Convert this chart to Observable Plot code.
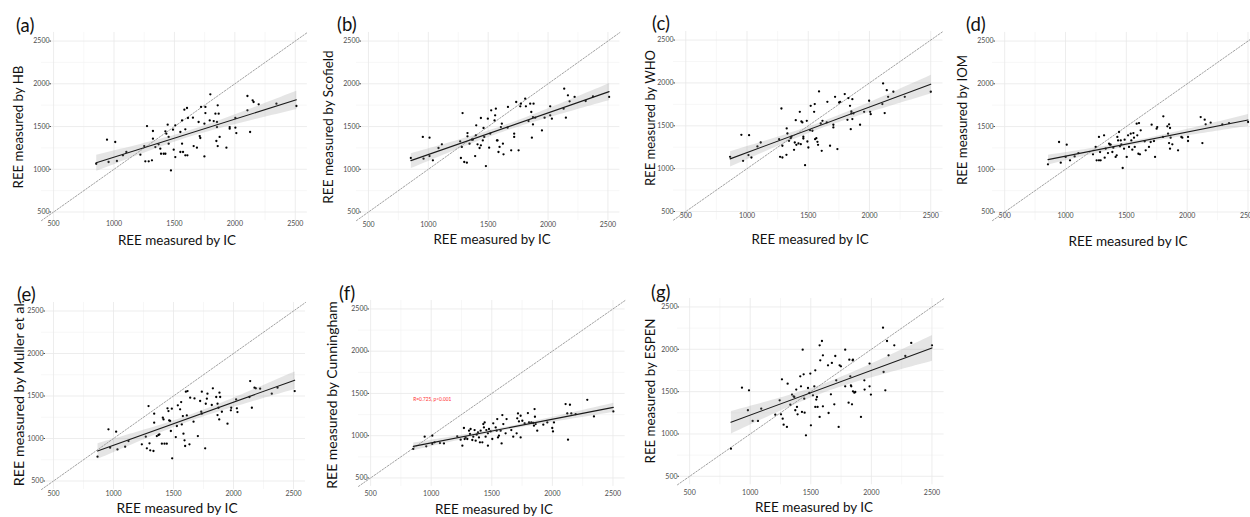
<!DOCTYPE html>
<html>
<head>
<meta charset="utf-8">
<script src="https://cdn.jsdelivr.net/npm/d3@7"></script>
<script src="https://cdn.jsdelivr.net/npm/@observablehq/plot@0.6"></script>
<style>
  html, body { margin: 0; padding: 0; background: #fff; }
  body { width: 1250px; height: 517px; overflow: hidden; position: relative; font-family: Lato, "Noto Sans", sans-serif; }
  .panel { position: absolute; }
  .panel svg { max-width: none !important; }
  .lbl { position: absolute; white-space: nowrap; color: #111; line-height: 1; }
  .plabel { font-size: 18.5px; transform: translateY(-50%); }
  .xtitle { font-size: 14px; transform: translate(-50%, -50%); }
  .ytitle { font-size: 14px; transform: translate(-50%, -50%) rotate(-90deg); }
</style>
</head>
<body>
<script>
// ---------- data ----------
const panelLabels = ["(a)", "(b)", "(c)", "(d)", "(e)", "(f)", "(g)"];
const xTitle = "REE measured by IC";
const yTitles = ["REE measured by HB", "REE measured by Scofield", "REE measured by WHO", "REE measured by IOM",
  "REE measured by Muller et al.", "REE measured by Cunningham", "REE measured by ESPEN"];
const tickValues = [500, 1000, 1500, 2000, 2500];
const minorTickValues = [750, 1250, 1750, 2250];
const axisLimits = [400, 2600];
const corLabel = "R=0.725, p<0.001";

const icA = [853,942,955,1010,1024,1074,1102,1218,1250,1273,1259,1287,1314,1322,1322,1342,1369,1383,1389,1411,1425,1425,1433,1444,1452,1452,1471,1488,1494,1507,1507,1549,1549,1563,1563,1571,1582,1604,1590,1590,1607,1612,1653,1659,1686,1700,1709,1714,1720,1748,1748,1756,1756,1797,1792,1825,1839,1847,1852,1852,1858,1858,1866,1874,1930,1957,1957,2004,2004,2012,2104,2104,2126,2147,2155,2197,2344,2509];
const hb = [1065,1346,1085,1319,1097,1163,1202,1171,1272,1506,1093,1093,1105,1448,1358,1260,1292,1241,1182,1182,1182,1444,1417,1522,1378,1300,987,1463,1229,1514,1143,1436,1202,1572,1300,1202,1697,1717,1467,1163,1163,1600,1604,1272,1253,1553,1389,1366,1729,1533,1151,1658,1729,1877,1572,1564,1650,1331,1553,1494,1748,1272,1650,1378,1253,1494,1475,1600,1487,1424,1857,1690,1436,1807,1787,1760,1768,1740];

const icB = [854,954,960,1010,1010,1038,1085,1113,1266,1272,1280,1286,1300,1322,1327,1327,1344,1364,1372,1391,1397,1400,1411,1428,1439,1439,1455,1461,1467,1481,1497,1508,1517,1525,1553,1558,1564,1573,1578,1586,1595,1606,1614,1623,1628,1662,1665,1692,1717,1717,1734,1754,1768,1773,1809,1815,1837,1851,1860,1865,1874,1874,1879,1893,1949,1971,2018,2018,2032,2135,2130,2149,2166,2180,2222,2314,2375,2510];
const scofield = [1132,1378,1124,1370,1155,1105,1249,1292,1327,1132,1261,1658,1085,1077,1424,1385,1300,1346,1346,1155,1397,1514,1292,1249,1600,1280,1338,1483,1378,1038,1592,1253,1417,1690,1572,1631,1709,1338,1338,1202,1261,1494,1533,1300,1175,1487,1729,1222,1417,1378,1787,1222,1737,1768,1826,1737,1564,1768,1670,1370,1611,1525,1768,1604,1455,1604,1737,1631,1592,1943,1709,1604,1865,1795,1846,1799,1853,1846];

const icC = [862,954,968,1017,1012,1036,1085,1112,1262,1270,1281,1289,1289,1322,1324,1330,1343,1357,1362,1384,1390,1398,1403,1420,1431,1439,1444,1452,1460,1460,1474,1488,1493,1501,1515,1520,1534,1548,1553,1556,1566,1575,1580,1588,1602,1610,1616,1651,1656,1678,1705,1705,1719,1738,1752,1760,1798,1820,1828,1841,1847,1852,1852,1860,1860,1869,1923,1956,1997,2005,2010,2111,2105,2124,2141,2152,2195,2288,2500];
const who = [1138,1395,1091,1391,1158,1130,1259,1305,1344,1138,1702,1130,1267,1161,1469,1410,1325,1356,1372,1220,1305,1566,1278,1294,1663,1286,1551,1539,1372,1352,1041,1558,1317,1247,1449,1733,1442,1663,1753,1344,1356,1313,1278,1901,1527,1208,1558,1539,1780,1267,1512,1481,1838,1228,1772,1780,1870,1570,1823,1733,1461,1667,1644,1811,1578,1644,1512,1663,1792,1663,1636,1994,1753,1648,1916,1838,1897,1838,1897];

const icD = [856,947,961,1010,1001,1037,1075,1106,1226,1248,1256,1275,1275,1284,1289,1317,1322,1330,1349,1358,1366,1371,1385,1393,1412,1421,1426,1432,1440,1448,1454,1459,1470,1481,1486,1503,1514,1522,1536,1541,1549,1558,1563,1569,1585,1590,1599,1604,1612,1618,1651,1659,1686,1700,1708,1727,1736,1749,1754,1804,1801,1837,1843,1851,1851,1859,1859,1864,1878,1925,1952,1960,2007,2007,2111,2125,2144,2152,2193,2289,2344,2500];
const iom = [1058,1319,1077,1288,1144,1105,1151,1190,1175,1261,1105,1378,1105,1202,1105,1397,1136,1241,1190,1300,1288,1288,1202,1253,1144,1163,1378,1338,1436,1268,1338,1292,1015,1241,1346,1144,1397,1261,1417,1338,1229,1424,1370,1261,1533,1397,1182,1541,1175,1456,1327,1222,1261,1319,1522,1331,1144,1475,1494,1619,1378,1502,1417,1307,1526,1483,1241,1370,1292,1222,1378,1370,1378,1331,1611,1307,1580,1526,1545,1526,1541,1553];

const icE = [867,958,972,1022,1033,1097,1125,1236,1269,1278,1292,1300,1306,1333,1339,1339,1361,1375,1383,1403,1411,1417,1425,1444,1450,1458,1464,1472,1478,1486,1489,1519,1528,1536,1555,1564,1569,1578,1583,1592,1597,1603,1611,1617,1633,1639,1667,1675,1703,1722,1731,1736,1736,1764,1769,1778,1783,1819,1828,1856,1867,1867,1875,1881,1883,1889,1903,1950,1978,1981,2022,2028,2033,2133,2139,2153,2175,2186,2222,2319,2367,2510];
const muller = [786,1108,892,1080,872,904,970,931,1021,884,1382,943,861,853,1186,1292,1029,1041,1049,939,1245,1225,939,939,1355,1323,1213,1206,1088,1351,767,1017,1147,1390,1343,1429,1166,1264,1057,978,912,1551,1272,1558,931,1480,1198,1472,1029,1441,1315,1292,1551,884,1409,1468,1527,1394,1590,1488,1409,1276,1362,1225,1539,1488,1315,1174,1331,1362,1460,1355,1311,1488,1676,1362,1598,1590,1586,1527,1598,1558];

const icF = [852,946,959,1009,1009,1028,1072,1105,1215,1243,1257,1270,1276,1284,1298,1312,1320,1325,1339,1347,1358,1367,1375,1386,1394,1402,1408,1422,1430,1435,1441,1449,1455,1468,1468,1477,1490,1504,1512,1532,1540,1545,1551,1559,1573,1581,1587,1595,1614,1622,1661,1677,1705,1710,1716,1724,1738,1738,1752,1771,1798,1807,1826,1842,1848,1853,1856,1862,1875,1925,1958,1999,2005,2013,2109,2123,2129,2145,2156,2192,2288,2343,2503];
const cunningham = [843,988,874,1000,902,921,913,909,992,953,882,1091,961,980,961,1059,1020,1079,949,988,1067,941,1012,1039,980,921,1059,921,1138,1098,1157,988,1067,882,1028,1079,1051,961,1146,1098,1059,1197,980,1000,1059,909,1244,1138,1028,1197,1067,988,1028,1205,1264,1169,1236,980,1177,1146,1268,1157,1157,1150,1118,1315,1224,1138,1059,1130,1157,1091,1051,1157,1374,1264,953,1366,1264,1256,1425,1228,1287];

const icG = [841,932,981,990,1020,1064,1091,1207,1243,1254,1262,1268,1276,1309,1303,1331,1345,1358,1364,1372,1380,1386,1391,1413,1419,1427,1433,1441,1446,1449,1460,1477,1488,1496,1501,1518,1529,1537,1537,1545,1551,1556,1573,1573,1578,1592,1600,1600,1642,1647,1666,1674,1694,1702,1710,1730,1738,1749,1784,1784,1812,1818,1826,1831,1834,1840,1845,1848,1848,1859,1867,1914,1942,1944,1985,1985,1996,2096,2101,2115,2129,2142,2189,2280,2329,2500];
const espen = [827,1547,1280,1516,1154,1154,1299,1228,1398,1232,1646,1181,1110,1594,1083,1346,1465,1445,1437,1280,1524,1319,1232,1681,1563,1260,1996,1705,1417,1252,984,1543,1484,1713,1102,1457,1563,1752,1319,1406,1437,1319,2047,1201,1870,2098,1929,1327,1811,1248,1468,1839,1350,1921,1634,1083,1811,1799,1996,1563,1370,1878,1681,1575,1563,1350,1870,1504,1878,1488,1496,1201,1634,1524,1831,1563,1465,2256,1732,1516,2098,1929,2047,1921,2075,2047];

const xSeries = [icA, icB, icC, icD, icE, icF, icG];
const ySeries = [hb, scofield, who, iom, muller, cunningham, espen];

// ---------- layout (page pixels) ----------
const layout = [
  {x0: 41.2, x1: 307.1, y0: 32.1, y1: 220.2, ydx: 10, xdy: 0.6, pl: [16, 25], xt: [177, 241], xtw: 118, yt: [18.5, 127], ytw: 123},
  {x0: 356.3, x1: 619.7, y0: 32.1, y1: 220.2, ydx: 5, xdy: 1.3, pl: [337, 24], xt: [492, 239.5], xtw: 117, yt: [329, 127], ytw: 153},
  {x0: 672.8, x1: 942.3, y0: 30.7, y1: 219.3, ydx: 2, xdy: -6.8, pl: [652, 23], xt: [810, 240], xtw: 117, yt: [651, 118], ytw: 136},
  {x0: 991.8, x1: 1259.5, y0: 32.1, y1: 220.2, ydx: 3, xdy: -7.7, pl: [966, 24], xt: [1128, 241.5], xtw: 119, yt: [963, 120], ytw: 130},
  {x0: 41.3, x1: 305.3, y0: 301.5, y1: 488.5, ydx: 4, xdy: 1.7, pl: [17, 294], xt: [177, 508], xtw: 121, yt: [19, 393], ytw: 187},
  {x0: 357.9, x1: 624.5, y0: 299.9, y1: 485.8, ydx: 11, xdy: 4.4, pl: [339, 293], xt: [494, 510], xtw: 118, yt: [332, 395], ytw: 187},
  {x0: 677.2, x1: 943.8, y0: 298.2, y1: 484.5, ydx: 2, xdy: 5.3, pl: [651, 292], xt: [814, 508], xtw: 118, yt: [651, 391], ytw: 145}
];
const M = {left: 45, right: 15, top: 10, bottom: 20};

function addLabel(text, cls, x, y, targetWidth) {
  const d = document.createElement("div");
  d.className = "lbl " + cls;
  d.textContent = text;
  d.style.left = x + "px";
  d.style.top = y + "px";
  document.body.appendChild(d);
  if (targetWidth) {
    const w = d.offsetWidth;
    const fs = parseFloat(getComputedStyle(d).fontSize);
    if (w > 0) d.style.fontSize = (fs * targetWidth / w).toFixed(2) + "px";
  }
}

layout.forEach((L, i) => {
  const xs = xSeries[i], ys = ySeries[i];
  const data = xs.map((x, k) => ({x, y: ys[k]}));
  const extra = [];
  if (i === 5) {
    extra.push(Plot.text([{x: d3.min(xs), y: d3.max(ys), t: corLabel}],
      {x: "x", y: "y", text: "t", textAnchor: "start", fill: "#ff3030", fontSize: 4.8}));
  }
  const W = L.x1 - L.x0 + M.left + M.right;
  const H = L.y1 - L.y0 + M.top + M.bottom;
  const chart = Plot.plot({
    width: W,
    height: H,
    marginLeft: M.left, marginRight: M.right, marginTop: M.top, marginBottom: M.bottom,
    x: {domain: axisLimits},
    y: {domain: axisLimits},
    style: {fontFamily: "Lato, 'Noto Sans', sans-serif", background: "transparent", overflow: "visible", maxWidth: "none"},
    marks: [
      Plot.gridX(minorTickValues, {stroke: "#f2f2f2", strokeOpacity: 1, strokeWidth: 0.6}),
      Plot.gridY(minorTickValues, {stroke: "#f2f2f2", strokeOpacity: 1, strokeWidth: 0.6}),
      Plot.gridX(tickValues, {stroke: "#e8e8e8", strokeOpacity: 1, strokeWidth: 0.8}),
      Plot.gridY(tickValues, {stroke: "#e8e8e8", strokeOpacity: 1, strokeWidth: 0.8}),
      Plot.axisX(tickValues, {tickSize: 0, tickPadding: 0, dy: L.xdy, fontSize: 7, color: "#4d4d4d", label: null, tickFormat: d => String(d)}),
      Plot.axisY(tickValues, {tickSize: 1.5, tickPadding: 0.5, dx: L.ydx, fontSize: 7, color: "#4d4d4d", label: null, tickFormat: d => String(d)}),
      Plot.line(axisLimits, {x: d => d, y: d => d, stroke: "#777", strokeWidth: 0.7, strokeDasharray: "1.6,1.6"}),
      Plot.dot(data, {x: "x", y: "y", r: 1.15, fill: "#000", stroke: "none"}),
      Plot.linearRegressionY(data, {x: "x", y: "y", stroke: "#1a1a1a", strokeWidth: 1.1, fill: "#999", fillOpacity: 0.25, ci: 0.95}),
      ...extra
    ]
  });
  chart.style.maxWidth = "none";
  chart.setAttribute("width", W);
  chart.setAttribute("height", H);
  const wrap = document.createElement("div");
  wrap.className = "panel";
  wrap.style.left = (L.x0 - M.left) + "px";
  wrap.style.top = (L.y0 - M.top) + "px";
  wrap.style.width = W + "px";
  wrap.style.height = H + "px";
  wrap.appendChild(chart);
  document.body.appendChild(wrap);

  addLabel(panelLabels[i], "plabel", L.pl[0], L.pl[1]);
  addLabel(xTitle, "xtitle", L.xt[0], L.xt[1], L.xtw);
  addLabel(yTitles[i], "ytitle", L.yt[0], L.yt[1], L.ytw);
});
</script>
</body>
</html>
